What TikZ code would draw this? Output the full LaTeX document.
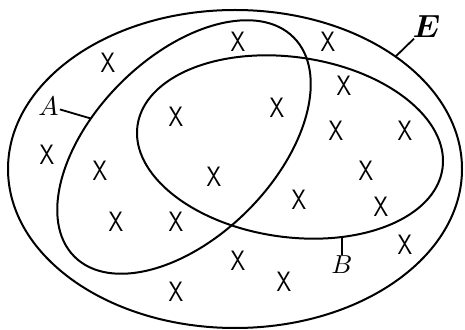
\documentclass[tikz,border=0pt]{standalone}
\usepackage{amsmath,bm}
\usetikzlibrary{positioning,shapes.geometric}

\newcommand{\elem}{\scalebox{2.2}[2.8]{\sffamily X}}

\begin{document}
\begin{tikzpicture}[
  x=1pt, y=1pt,
  set/.style={ellipse, draw, line width=2pt, inner sep=0pt, outer sep=0pt},
  cross/.style={inner sep=0pt},
  lbl/.style={inner sep=1pt},
  tie/.style={line width=1.8pt}
]
\useasboundingbox (0,0) rectangle (465,329);

% the three sets
\node[set, minimum width=454pt, minimum height=318pt]            (E) at (235,160) {};
\node[set, minimum width=310pt, minimum height=180pt, rotate=45] (A) at (184,182) {};
\node[set, minimum width=308pt, minimum height=180pt, rotate=-8] (B) at (290,182) {};

% labels
\node[lbl, above left=2pt and 31pt of A.118]      (Alab) {\scalebox{2.7}{$A$}};
\node[lbl, below=18pt of B.-52]                  (Blab) {\scalebox{2.6}{$B$}};
\node[lbl, above right=18pt and 16pt of E.35]    (Elab) {\scalebox{3.2}{$\bm{E}$}};

\draw[tie] (Alab) -- (A.118);
\draw[tie] (Blab) -- (B.-52);
\draw[tie] (Elab) -- (E.35);

% elements
\foreach \p [count=\i] in {(108,266),(238,287),(328,287),(344,243),(176,212),
                           (277,221),(336,198),(405,198),(47,174),(100,158),
                           (214,152),(366,158),(299,129),(381,122),(116,107),
                           (176,107),(405,84),(238,68),(284,47),(176,37)}
  \node[cross] (x\i) at \p {\elem};
\end{tikzpicture}
\end{document}
